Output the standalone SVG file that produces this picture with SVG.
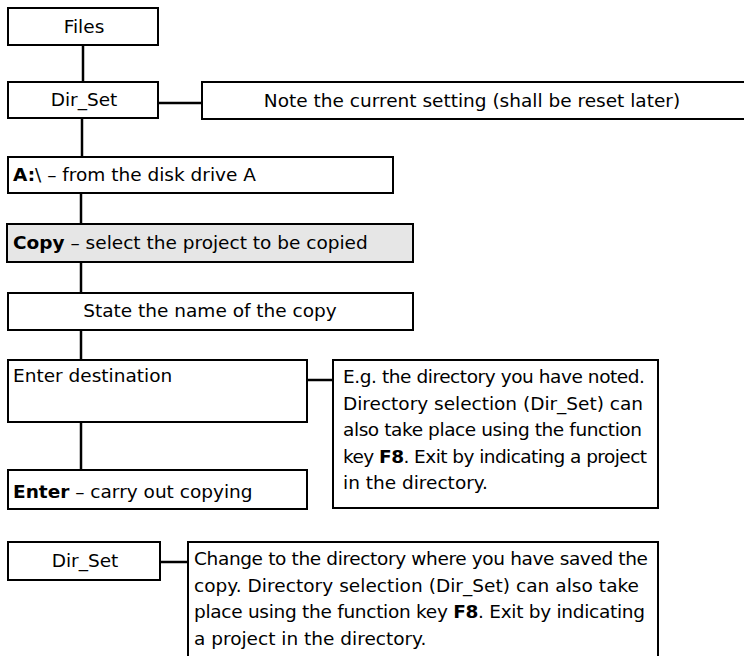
<svg xmlns="http://www.w3.org/2000/svg" width="744" height="656" viewBox="0 0 744 656">
<style>
  .box { fill: #ffffff; stroke: #000000; stroke-width: 2; }
  .grey { fill: #e6e6e6; }
  .t { font-family: "DejaVu Sans", "Liberation Sans", sans-serif; font-size: 18.5px; fill: #000000; }
  .c { text-anchor: middle; }
  .b { font-weight: bold; }
  .conn { stroke: #000000; stroke-width: 2.5; fill: none; }
</style>
<rect width="744" height="656" fill="#ffffff"/>
<g id="connectors">
  <line class="conn" x1="83" y1="45" x2="83" y2="82"/>
  <line class="conn" x1="158" y1="103" x2="202" y2="103"/>
  <line class="conn" x1="82" y1="118" x2="82" y2="157"/>
  <line class="conn" x1="81" y1="193" x2="81" y2="224"/>
  <line class="conn" x1="81" y1="262" x2="81" y2="293"/>
  <line class="conn" x1="81" y1="330" x2="81" y2="360"/>
  <line class="conn" x1="307" y1="380" x2="333" y2="380"/>
  <line class="conn" x1="81" y1="422" x2="81" y2="470"/>
  <line class="conn" x1="160" y1="562" x2="188" y2="562"/>
</g>
<g id="files">
  <rect class="box" x="8" y="8" width="150" height="37"/>
  <text class="t c" x="84" y="33">Files</text>
</g>
<g id="dirset1">
  <rect class="box" x="8" y="82" width="150" height="36"/>
  <text class="t c" x="84" y="106">Dir_Set</text>
</g>
<g id="note">
  <rect class="box" x="202" y="82" width="546" height="37"/>
  <text class="t c" x="472" y="107">Note the current setting (shall be reset later)</text>
</g>
<g id="drive">
  <rect class="box" x="8" y="157" width="385" height="36"/>
  <text class="t" x="13" y="181"><tspan class="b">A:</tspan>\ – from the disk drive A</text>
</g>
<g id="copy">
  <rect class="box grey" x="7" y="224" width="406" height="38"/>
  <text class="t" x="13" y="249"><tspan class="b">Copy</tspan> – select the project to be copied</text>
</g>
<g id="state">
  <rect class="box" x="8" y="293" width="405" height="37"/>
  <text class="t c" x="210" y="317">State the name of the copy</text>
</g>
<g id="destination">
  <rect class="box" x="8" y="360" width="299" height="62"/>
  <text class="t" x="13" y="382">Enter destination</text>
</g>
<g id="eg">
  <rect class="box" x="333" y="360" width="325" height="148"/>
  <text class="t" x="343" y="383" textLength="302" lengthAdjust="spacing">E.g. the directory you have noted.</text>
  <text class="t" x="343" y="409.5" textLength="300" lengthAdjust="spacing">Directory selection (Dir_Set) can</text>
  <text class="t" x="343" y="436" textLength="299" lengthAdjust="spacing">also take place using the function</text>
  <text class="t" x="343" y="462.5" textLength="304" lengthAdjust="spacing">key <tspan class="b">F8</tspan>. Exit by indicating a project</text>
  <text class="t" x="343" y="489">in the directory.</text>
</g>
<g id="enter">
  <rect class="box" x="8" y="470" width="299" height="39"/>
  <text class="t" x="13" y="498"><tspan class="b">Enter</tspan> – carry out copying</text>
</g>
<g id="dirset2">
  <rect class="box" x="8" y="542" width="152" height="38"/>
  <text class="t c" x="85" y="567">Dir_Set</text>
</g>
<g id="change">
  <rect class="box" x="188" y="542" width="470" height="120"/>
  <text class="t" x="194" y="565" textLength="454" lengthAdjust="spacing">Change to the directory where you have saved the</text>
  <text class="t" x="194" y="591.5" textLength="445" lengthAdjust="spacing">copy. Directory selection (Dir_Set) can also take</text>
  <text class="t" x="194" y="618" textLength="451" lengthAdjust="spacing">place using the function key <tspan class="b">F8</tspan>. Exit by indicating</text>
  <text class="t" x="194" y="644.5">a project in the directory.</text>
</g>
</svg>
